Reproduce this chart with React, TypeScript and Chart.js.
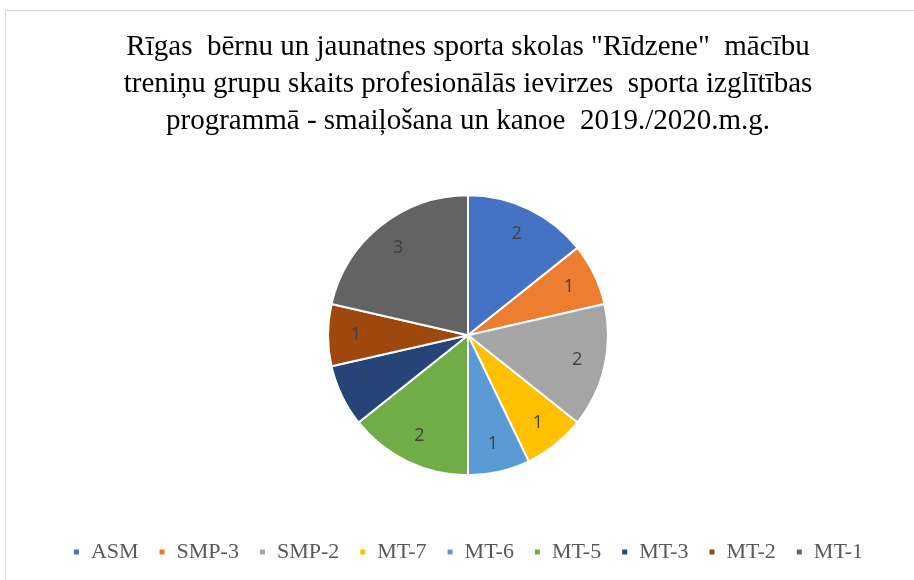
import React, { useEffect, useRef } from "react";
import { Chart, registerables } from "chart.js";

Chart.register(...registerables);

const categories = ["ASM", "SMP-3", "SMP-2", "MT-7", "MT-6", "MT-5", "MT-3", "MT-2", "MT-1"];
const values = [2, 1, 2, 1, 1, 2, 1, 1, 3];
const colors = ["#4472C4", "#ED7D31", "#A5A5A5", "#FFC000", "#5B9BD5", "#70AD47", "#264478", "#9E480E", "#636363"];
const titleLines = [
  'Rīgas  bērnu un jaunatnes sporta skolas "Rīdzene"  mācību',
  "treniņu grupu skaits profesionālās ievirzes  sporta izglītības",
  "programmā - smaiļošana un kanoe  2019./2020.m.g.",
];

const labelPlugin = {
  id: "sliceLabels",
  afterDatasetsDraw(chart: any) {
    const ctx = chart.ctx;
    const meta = chart.getDatasetMeta(0);
    ctx.save();
    ctx.font = '18px "Open Sans", "Liberation Sans", sans-serif';
    ctx.fillStyle = "#404040";
    ctx.textAlign = "center";
    ctx.textBaseline = "middle";
    meta.data.forEach((arc: any, i: number) => {
      const p = arc.getProps(["x", "y", "startAngle", "endAngle", "outerRadius"], true);
      const a = (p.startAngle + p.endAngle) / 2;
      const r = p.outerRadius * 0.8;
      ctx.fillText(String(values[i]), p.x + Math.cos(a) * r, p.y + Math.sin(a) * r);
    });
    ctx.restore();
  },
};

export default function App() {
  const ref = useRef<HTMLCanvasElement>(null);
  useEffect(() => {
    const chart = new Chart(ref.current!, {
      type: "pie",
      data: {
        labels: categories,
        datasets: [
          {
            data: values,
            backgroundColor: colors,
            borderColor: "#ffffff",
            borderWidth: 2,
            radius: 140,
          },
        ],
      },
      options: {
        animation: false,
        responsive: false,
        layout: { padding: { top: 29, bottom: 7, left: 22, right: 0 } },
        plugins: {
          tooltip: { enabled: false },
          title: {
            display: true,
            text: titleLines,
            color: "#000000",
            font: { family: '"Liberation Serif", "Times New Roman", serif', size: 29, weight: "normal", lineHeight: 1.28 },
            padding: { top: 0, bottom: 9 },
          },
          legend: {
            position: "bottom",
            labels: {
              color: "#595959",
              font: { family: '"Liberation Serif", "Times New Roman", serif', size: 22 },
              boxWidth: 7,
              boxHeight: 7,
              padding: 20,
            },
          },
        },
      },
      plugins: [labelPlugin],
    });
    return () => chart.destroy();
  }, []);
  return (
    <div style={{ position: "absolute", left: 0, top: 0, width: 914, height: 580, overflow: "hidden", background: "#fff" }}>
      <div style={{ position: "absolute", left: 5, top: 10, width: 960, height: 620, border: "1px solid #d9d9d9" }} />
      <canvas ref={ref} width={914} height={580} style={{ position: "absolute", left: 0, top: 0 }} />
    </div>
  );
}
